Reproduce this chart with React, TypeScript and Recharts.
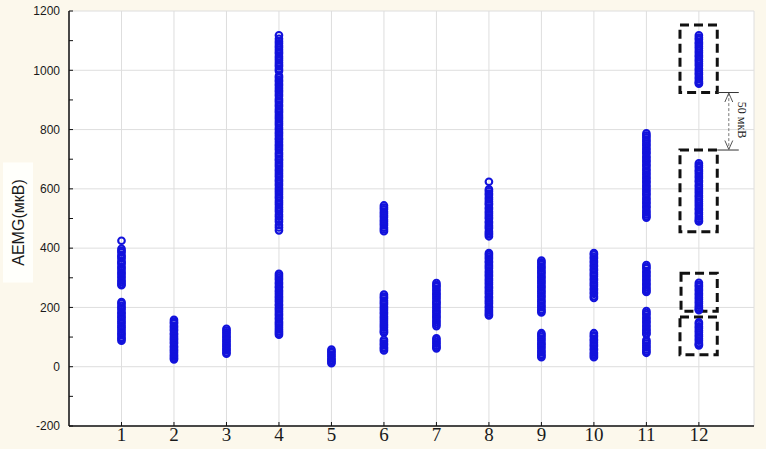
import React from "react";
import {
  ScatterChart,
  Scatter,
  XAxis,
  YAxis,
  CartesianGrid,
  ReferenceArea,
  ReferenceLine,
  ReferenceDot,
} from "recharts";

const BLUE = "#1212dc";

// category positions on the x axis
const categories = [1, 2, 3, 4, 5, 6, 7, 8, 9, 10, 11, 12];
const xTicks = [1, 2, 3, 4, 5, 6, 7, 8, 9, 10, 11, 12];
const yTicks = [-200, -100, 0, 100, 200, 300, 400, 500, 600, 700, 800, 900, 1000, 1100, 1200];
const yGrid = [-200, 0, 200, 400, 600, 800, 1000, 1200];

// AEMG values (мкВ)
const col1 = [425, 398, 391, 386, 377, 371, 366, 357, 351, 347, 338, 333, 326, 318, 313, 305, 299, 291, 286, 279, 275,
  218, 213, 205, 199, 193, 184, 179, 171, 166, 159, 152, 146, 138, 133, 126, 119, 112, 107, 99, 94, 88];
const col2 = [158, 151, 146, 138, 133, 126, 121, 113, 108, 101, 95, 90, 83, 78, 70, 65, 58, 53, 47, 40, 35, 29, 25];
const col3 = [128, 122, 116, 110, 103, 98, 91, 86, 79, 73, 68, 61, 56, 49, 44];
const col4 = [1118, 1106, 1098, 1091, 1083, 1077, 1069, 1062, 1056, 1047, 1041, 1034, 1026, 1019, 1013, 1004, 998,
  981, 975, 967, 962, 954, 948, 940, 933, 927, 919, 913, 904, 898, 892, 884, 878, 869, 863, 857, 849, 842, 836,
  828, 821, 815, 806, 800, 792, 786, 779, 771, 766, 758, 750, 744, 737, 731, 722, 716, 709, 701, 696, 688, 681,
  675, 666, 660, 653, 646, 640, 631, 625, 617, 611, 603, 596, 589, 582, 574, 568, 560, 553, 546, 538, 530, 523,
  513, 506, 497, 489, 478, 470, 460,
  313, 306, 299, 293, 285, 279, 271, 266, 258, 252, 245, 238, 232, 225, 219, 211, 206, 198, 193, 186, 179, 173,
  165, 160, 152, 146, 140, 133, 126, 120, 114, 108];
const col5 = [58, 52, 47, 40, 35, 28, 23, 17, 12];
const col6 = [544, 537, 531, 523, 517, 510, 504, 496, 490, 483, 477, 469, 463, 457,
  243, 236, 231, 223, 217, 211, 203, 197, 191, 184, 178, 170, 164, 158, 151, 144, 138, 132, 125, 119, 115,
  91, 85, 78, 73, 66, 61, 55];
const col7 = [282, 275, 270, 262, 256, 248, 243, 236, 230, 222, 216, 211, 203, 197, 189, 184, 177, 170, 165, 157,
  151, 144, 137, 96, 90, 83, 78, 71, 66, 62];
const col8 = [624, 598, 592, 584, 579, 571, 565, 557, 551, 546, 537, 532, 524, 518, 511, 504, 499, 490, 485, 477,
  471, 466, 457, 451, 446, 440,
  383, 377, 370, 364, 356, 351, 343, 337, 331, 323, 317, 310, 305, 297, 291, 284, 278, 270, 265, 257, 251, 245,
  237, 232, 224, 218, 212, 204, 199, 191, 185, 178, 173];
const col9 = [358, 352, 346, 338, 333, 325, 319, 313, 305, 300, 292, 286, 280, 272, 267, 259, 253, 247, 239, 234,
  226, 220, 214, 206, 201, 193, 188, 183,
  113, 107, 101, 94, 88, 80, 75, 68, 62, 54, 49, 42, 37, 32];
const col10 = [383, 378, 370, 365, 357, 351, 343, 338, 330, 325, 317, 311, 305, 297, 292, 284, 278, 272, 264, 259,
  251, 246, 238, 232,
  113, 106, 101, 93, 88, 81, 74, 69, 61, 56, 48, 43, 37, 32];
const col11 = [787, 780, 774, 766, 760, 752, 746, 738, 732, 724, 719, 710, 704, 696, 691, 682, 677, 668, 662, 654,
  648, 640, 634, 626, 621, 612, 606, 598, 592, 584, 579, 570, 564, 556, 550, 541, 536, 527, 521, 514, 508, 503,
  343, 336, 331, 322, 317, 309, 303, 295, 289, 281, 276, 268, 262, 256, 252,
  188, 181, 175, 167, 161, 153, 148, 140, 134, 126, 121, 114, 110,
  90, 84, 78, 71, 65, 58, 52, 47];
const col12 = [1118, 1110, 1104, 1095, 1089, 1081, 1074, 1066, 1059, 1051, 1045, 1036, 1030, 1022, 1015, 1006, 1000,
  992, 986, 977, 971, 963, 958, 955,
  686, 679, 673, 664, 658, 651, 643, 637, 628, 623, 614, 608, 600, 593, 586, 578, 572, 564, 557, 550, 543, 535,
  529, 520, 514, 506, 499, 493, 490,
  283, 276, 270, 262, 256, 248, 242, 234, 228, 220, 214, 206, 200, 194, 191,
  150, 144, 136, 130, 122, 116, 108, 102, 94, 88, 80, 75, 72];

const columns = [col1, col2, col3, col4, col5, col6, col7, col8, col9, col10, col11, col12];

const points = columns.flatMap((vals, i) => vals.map((v) => ({ x: categories[i], y: v })));

// dashed frames around the groups of column 12
const frames = [
  { x1: 11.64, x2: 12.35, y1: 925, y2: 1153 },
  { x1: 11.64, x2: 12.35, y1: 455, y2: 731 },
  { x1: 11.66, x2: 12.35, y1: 187, y2: 315 },
  { x1: 11.64, x2: 12.35, y1: 40, y2: 168 },
];

const Ring = (props: any) => (
  <circle cx={props.cx} cy={props.cy} r={3.3} fill="none" stroke={BLUE} strokeWidth={2.1} />
);

const YLabel = (props: any) => {
  const vb = props.viewBox;
  const cx = vb.x + 18;
  const cy = vb.y + vb.height / 2 + 4;
  return (
    <g>
      <rect x={cx - 15} y={cy - 60} width={30} height={120} fill="#fffffb" />
      <text
        x={cx}
        y={cy}
        transform={`rotate(-90 ${cx} ${cy})`}
        textAnchor="middle"
        dominantBaseline="central"
        fontFamily="Liberation Sans, Arial, sans-serif"
        fontSize={16}
        fill="#1a1a1a"
      >
        AEMG(мкВ)
      </text>
    </g>
  );
};

export default function App() {
  const arrowX = 12.57;
  return (
    <div style={{ position: "absolute", left: 0, top: 0, width: 766, height: 449, background: "#fcf8ec" }}>
      <ScatterChart width={766} height={449} margin={{ top: 11, right: 12, bottom: 0, left: 0 }}>
        <CartesianGrid stroke="#dedede" fill="#ffffff" horizontalValues={yGrid} />
        <XAxis
          dataKey="x"
          type="number"
          domain={[0, 13.05]}
          ticks={xTicks}
          allowDataOverflow
          height={23}
          tickSize={-4}
          tickMargin={6}
          axisLine={{ stroke: "#111", strokeWidth: 1.5 }}
          tickLine={{ stroke: "#111" }}
          tick={{ fontFamily: "Liberation Serif, Times New Roman, serif", fontSize: 19, fill: "#1a1a1a" }}
        />
        <XAxis
          xAxisId="top"
          orientation="top"
          type="number"
          domain={[0, 13.05]}
          ticks={xTicks}
          allowDataOverflow
          height={0}
          tickSize={-4}
          tick={false}
          axisLine={{ stroke: "#111", strokeWidth: 1.5 }}
          tickLine={{ stroke: "#111" }}
        />
        <YAxis
          dataKey="y"
          type="number"
          domain={[-200, 1200]}
          ticks={yTicks}
          allowDataOverflow
          width={69}
          tickSize={-4}
          tickMargin={13}
          tickFormatter={(v: number) => (v % 200 === 0 ? String(v) : "")}
          axisLine={{ stroke: "#111", strokeWidth: 1.5 }}
          tickLine={{ stroke: "#111" }}
          tick={{ fontFamily: "Liberation Sans, Arial, sans-serif", fontSize: 12, fill: "#1a1a1a" }}
          label={<YLabel />}
        />
        <YAxis
          yAxisId="r"
          orientation="right"
          type="number"
          domain={[-200, 1200]}
          ticks={yTicks}
          allowDataOverflow
          width={0}
          tickSize={-4}
          tick={false}
          axisLine={{ stroke: "#111", strokeWidth: 1.5 }}
          tickLine={{ stroke: "#111" }}
        />
        <Scatter data={points} shape={Ring} isAnimationActive={false} />
        {frames.map((f, i) => (
          <ReferenceArea
            key={i}
            x1={f.x1}
            x2={f.x2}
            y1={f.y1}
            y2={f.y2}
            fill="none"
            fillOpacity={0}
            stroke="#111"
            strokeWidth={3}
            strokeDasharray="9 5"
            ifOverflow="visible"
          />
        ))}
        <ReferenceLine segment={[{ x: 12.35, y: 925 }, { x: 12.76, y: 925 }]} stroke="#333" strokeWidth={1} ifOverflow="visible" />
        <ReferenceLine segment={[{ x: 12.35, y: 731 }, { x: 12.76, y: 731 }]} stroke="#333" strokeWidth={1} ifOverflow="visible" />
        <ReferenceLine segment={[{ x: arrowX, y: 923 }, { x: arrowX, y: 733 }]} stroke="#777" strokeWidth={1} strokeDasharray="3 2" ifOverflow="visible" />
        <ReferenceLine segment={[{ x: arrowX - 0.075, y: 893 }, { x: arrowX, y: 923 }]} stroke="#555" strokeWidth={1} ifOverflow="visible" />
        <ReferenceLine segment={[{ x: arrowX + 0.075, y: 893 }, { x: arrowX, y: 923 }]} stroke="#555" strokeWidth={1} ifOverflow="visible" />
        <ReferenceLine segment={[{ x: arrowX - 0.075, y: 763 }, { x: arrowX, y: 733 }]} stroke="#555" strokeWidth={1} ifOverflow="visible" />
        <ReferenceLine segment={[{ x: arrowX + 0.075, y: 763 }, { x: arrowX, y: 733 }]} stroke="#555" strokeWidth={1} ifOverflow="visible" />
        <ReferenceDot
          x={12.82}
          y={832}
          r={0}
          ifOverflow="visible"
          shape={(p: any) => (
            <text
              x={p.cx}
              y={p.cy}
              transform={`rotate(90 ${p.cx} ${p.cy})`}
              textAnchor="middle"
              dominantBaseline="central"
              fontFamily="Liberation Serif, Times New Roman, serif"
              fontSize={12}
              fill="#222"
            >
              50 мкВ
            </text>
          )}
        />
      </ScatterChart>
    </div>
  );
}
